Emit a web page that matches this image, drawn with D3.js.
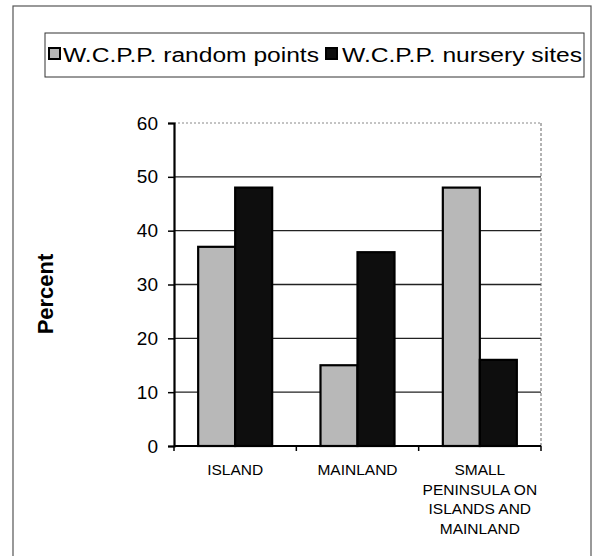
<!DOCTYPE html>
<html><head><meta charset="utf-8">
<script src="https://cdn.jsdelivr.net/npm/d3@7"></script>
<style>body{margin:0;background:#fff;} svg{display:block;font-family:"Liberation Sans",Arial,sans-serif;}</style>
</head><body>
<svg id="c" width="594" height="556"></svg>
<script>
const categories = [["ISLAND"],["MAINLAND"],["SMALL","PENINSULA ON","ISLANDS AND","MAINLAND"]];
const seriesNames = ["W.C.P.P. random points","W.C.P.P. nursery sites"];
const randomPoints = [37, 15, 48];
const nurserySites = [48, 36, 16];
const yTicks = [0,10,20,30,40,50,60];
const yLabel = "Percent";

const svg = d3.select("#c");
const colors = ["#b8b8b8","#0e0e0e"];

// outer frame
svg.append("rect").attr("x",13).attr("y",6).attr("width",578).attr("height",560)
  .attr("fill","none").attr("stroke","#555").attr("stroke-width",1.2);

const m = {l:174, r:541, t:123, b:446};
const x0 = d3.scaleBand().domain(d3.range(categories.length)).range([m.l,m.r]);
const x1 = d3.scaleBand().domain([0,1]).range([0,74]);
const y = d3.scaleLinear().domain([0,60]).range([m.b,m.t]);

// gridlines
svg.append("g").selectAll("line").data(yTicks.filter(t=>t>0)).join("line")
  .attr("x1",m.l).attr("x2",m.r).attr("y1",d=>y(d)).attr("y2",d=>y(d))
  .attr("stroke",d=>d===60?"#888":"#222").attr("stroke-width",d=>d===60?1:1.4)
  .attr("stroke-dasharray",d=>d===60?"2,2":null);
// right plot border
svg.append("line").attr("x1",m.r).attr("x2",m.r).attr("y1",m.t).attr("y2",m.b)
  .attr("stroke","#666").attr("stroke-dasharray","3,2");

// bars
const data = [randomPoints, nurserySites];
categories.forEach((c,i)=>{
  const cx = x0(i)+x0.bandwidth()/2 - 37;
  data.forEach((s,j)=>{
    svg.append("rect")
      .attr("x",cx+x1(j)).attr("y",y(s[i]))
      .attr("width",x1.bandwidth()).attr("height",y(0)-y(s[i]))
      .attr("fill",colors[j]).attr("stroke","#000").attr("stroke-width",2.2);
  });
});

// y axis
const ya = svg.append("g").attr("transform",`translate(${m.l},0)`)
  .call(d3.axisLeft(y).tickValues(yTicks).tickSize(6).tickPadding(10));
ya.select(".domain").attr("stroke","#000").attr("stroke-width",2.2);
ya.selectAll(".tick line").attr("stroke","#000").attr("stroke-width",1.5);
ya.selectAll("text").attr("font-size",19).attr("fill","#000").attr("font-family","'Liberation Sans',Arial,sans-serif");

// x axis
svg.append("line").attr("x1",m.l).attr("x2",m.r).attr("y1",m.b).attr("y2",m.b).attr("stroke","#000").attr("stroke-width",2);
svg.append("g").selectAll("line").data(d3.range(categories.length+1)).join("line")
  .attr("x1",d=>m.l+d*x0.bandwidth()).attr("x2",d=>m.l+d*x0.bandwidth())
  .attr("y1",m.b).attr("y2",m.b+5).attr("stroke","#000").attr("stroke-width",1.5);
categories.forEach((c,i)=>{
  const t = svg.append("text").attr("text-anchor","middle").attr("font-size",15.5).attr("fill","#000");
  c.forEach((line,k)=>{
    t.append("tspan").attr("x",x0(i)+x0.bandwidth()/2).attr("y",475+k*19.5).text(line);
  });
});

// y label
svg.append("text").attr("transform","translate(53,294) rotate(-90)").attr("text-anchor","middle")
  .attr("font-size",22).attr("font-weight","bold").attr("fill","#000").text(yLabel);

// legend
svg.append("rect").attr("x",45).attr("y",33).attr("width",539).attr("height",44)
  .attr("fill","#fff").attr("stroke","#333").attr("stroke-width",1);
const legSw = [48, 325];
const legTx = [63, 342];
const legLen = [256, 240];
seriesNames.forEach((n,j)=>{
  svg.append("rect").attr("x",legSw[j]+1).attr("y",48).attr("width",11).attr("height",11)
    .attr("fill",colors[j]).attr("stroke","#000").attr("stroke-width",2);
  svg.append("text").attr("x",legTx[j]).attr("y",62).attr("font-size",20).attr("fill","#000")
    .attr("textLength",legLen[j]).attr("lengthAdjust","spacingAndGlyphs").text(n);
});
</script>
</body></html>
